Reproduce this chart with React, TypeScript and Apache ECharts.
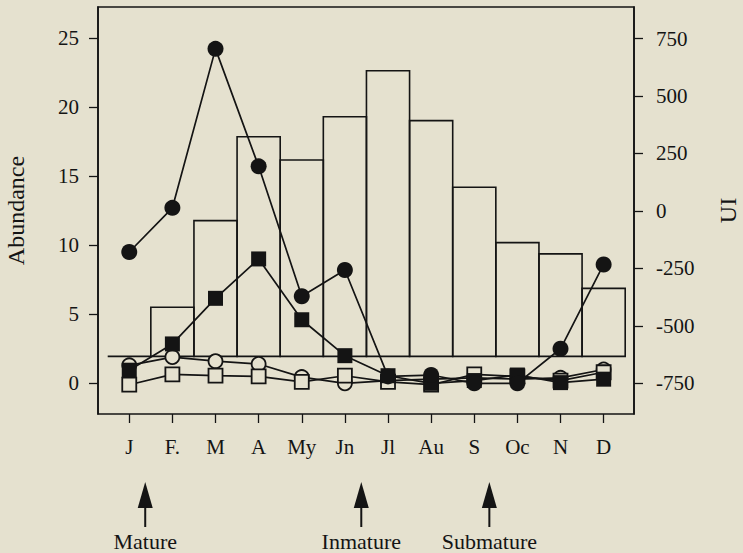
import React, { useEffect, useRef } from "react";
import * as echarts from "echarts";

const months = ["J", "F.", "M", "A", "My", "Jn", "Jl", "Au", "S", "Oc", "N", "D"];
const abundanceTicks = [0, 5, 10, 15, 20, 25];
const uiTicks = [-750, -500, -250, 0, 250, 500, 750];
const uiBars = [-633, -419, -42, 323, 222, 410, 610, 393, 103, -138, -187, -337];
const barBase = -633;
const filledCircles = [9.5, 12.7, 24.2, 15.7, 6.3, 8.2, 0.5, 0.6, 0.0, 0.0, 2.5, 8.6];
const filledSquares = [0.95, 2.85, 6.15, 9.0, 4.6, 2.0, 0.55, 0.0, 0.2, 0.6, 0.05, 0.3];
const openCircles = [1.3, 1.9, 1.6, 1.4, 0.45, 0.0, 0.2, 0.3, 0.4, 0.3, 0.4, 1.0];
const openSquares = [-0.1, 0.65, 0.55, 0.5, 0.1, 0.55, 0.1, -0.1, 0.65, 0.5, 0.2, 0.8];
const stages = [
  { label: "Mature", at: 0.37 },
  { label: "Inmature", at: 5.38 },
  { label: "Submature", at: 8.35 },
];

const ABUND_MIN = -2.22;
const ABUND_MAX = 27.23;
const UI_MIN = -883.6;
const UI_MAX = 887.5;

const BG = "#e5e1cf";
const INK = "#141414";
const FONT = "'Liberation Serif', 'DejaVu Serif', serif";

export default function App() {
  const ref = useRef<HTMLDivElement>(null);

  useEffect(() => {
    document.body.style.margin = "0";
    document.body.style.background = BG;
    const chart = echarts.init(ref.current!, null, { renderer: "svg" });

    const lineSeries = (
      name: string,
      data: number[],
      symbol: string,
      size: number,
      filled: boolean,
      z: number
    ) => ({
      name,
      type: "line",
      xAxisIndex: 1,
      yAxisIndex: 2,
      data,
      symbol,
      symbolSize: size,
      showSymbol: true,
      z,
      lineStyle: { color: INK, width: 1.7 },
      itemStyle: filled
        ? { color: INK, borderColor: INK, borderWidth: 0 }
        : { color: BG, borderColor: INK, borderWidth: 1.8 },
      emphasis: { disabled: true },
    });

    const option: any = {
      animation: false,
      backgroundColor: BG,
      textStyle: { fontFamily: FONT },
      grid: [
        {
          left: 98,
          top: 7,
          width: 536,
          height: 407,
          show: true,
          borderColor: INK,
          borderWidth: 1.6,
          backgroundColor: "transparent",
          containLabel: false,
          outerBoundsMode: "none",
        },
        {
          left: 107.7,
          top: 7,
          width: 517.5,
          height: 407,
          containLabel: false,
          outerBoundsMode: "none",
        },
      ],
      xAxis: [
        { type: "value", gridIndex: 0, show: false, min: 0, max: 1 },
        {
          type: "category",
          gridIndex: 1,
          data: months,
          boundaryGap: true,
          position: "bottom",
          axisLine: { show: false, onZero: false },
          axisTick: {
            show: true,
            alignWithLabel: true,
            length: 9,
            lineStyle: { color: INK, width: 1.3 },
          },
          axisLabel: {
            color: INK,
            fontSize: 21,
            fontFamily: FONT,
            margin: 22,
            interval: 0,
          },
        },
      ],
      yAxis: [
        {
          type: "value",
          gridIndex: 0,
          position: "left",
          min: ABUND_MIN,
          max: ABUND_MAX,
          name: "Abundance",
          nameLocation: "middle",
          nameRotate: 90,
          nameGap: 70,
          nameTextStyle: { color: INK, fontSize: 24, fontFamily: FONT },
          splitLine: { show: false },
          axisLine: { show: true, lineStyle: { color: INK, width: 1.6 } },
          axisTick: {
            show: true,
            length: 9,
            customValues: abundanceTicks,
            lineStyle: { color: INK, width: 1.3 },
          },
          axisLabel: {
            color: INK,
            fontSize: 21,
            fontFamily: FONT,
            margin: 19,
            customValues: abundanceTicks,
          },
        },
        {
          type: "value",
          gridIndex: 0,
          position: "right",
          min: UI_MIN,
          max: UI_MAX,
          name: "UI",
          nameLocation: "middle",
          nameRotate: 90,
          nameGap: 83,
          nameTextStyle: { color: INK, fontSize: 24, lineHeight: 22, fontFamily: FONT },
          splitLine: { show: false },
          axisLine: { show: true, lineStyle: { color: INK, width: 1.6 } },
          axisTick: {
            show: true,
            length: 9,
            customValues: uiTicks,
            lineStyle: { color: INK, width: 1.3 },
          },
          axisLabel: {
            color: INK,
            fontSize: 21,
            fontFamily: FONT,
            margin: 22,
            customValues: uiTicks,
          },
        },
        { type: "value", gridIndex: 1, show: false, min: ABUND_MIN, max: ABUND_MAX, splitLine: { show: false } },
        { type: "value", gridIndex: 1, show: false, min: UI_MIN, max: UI_MAX, splitLine: { show: false } },
      ],
      series: [
        {
          name: "UI",
          type: "custom",
          xAxisIndex: 1,
          yAxisIndex: 3,
          z: 1,
          data: uiBars.map((v, i) => [i, v]),
          encode: { x: 0, y: 1 },
          renderItem: (params: any, api: any) => {
            const i = api.value(0);
            const top = api.coord([i, api.value(1)]);
            const bottom = api.coord([i, barBase]);
            const w = api.size([1, 0])[0];
            return {
              type: "rect",
              shape: {
                x: top[0] - w / 2,
                y: top[1],
                width: w,
                height: bottom[1] - top[1],
              },
              style: { fill: "none", stroke: INK, lineWidth: 1.6 },
            };
          },
        },
        lineSeries("open circles", openCircles, "circle", 14, false, 3),
        lineSeries("open squares", openSquares, "rect", 14, false, 4),
        lineSeries("filled squares", filledSquares, "rect", 15, true, 5),
        lineSeries("filled circles", filledCircles, "circle", 16, true, 6),
      ],
    };

    chart.setOption(option);

    const p0 = chart.convertToPixel({ xAxisIndex: 1 } as any, 0) as any;
    const p1 = chart.convertToPixel({ xAxisIndex: 1 } as any, 1) as any;
    const x0 = typeof p0 === "number" ? p0 : 129.3;
    const step = typeof p1 === "number" ? p1 - x0 : 43.12;

    const graphics: any[] = [];
    stages.forEach((s) => {
      const x = x0 + s.at * step;
      graphics.push({
        type: "polygon",
        shape: { points: [[x, 482], [x - 7.5, 508], [x + 7.5, 508]] },
        style: { fill: INK },
      });
      graphics.push({
        type: "line",
        shape: { x1: x, y1: 504, x2: x, y2: 527 },
        style: { stroke: INK, lineWidth: 2 },
      });
      graphics.push({
        type: "text",
        x,
        y: 541,
        style: {
          text: s.label,
          fill: INK,
          fontSize: 22,
          fontFamily: FONT,
          align: "center",
          verticalAlign: "middle",
        },
      });
    });
    chart.setOption({ graphic: graphics });

    return () => chart.dispose();
  }, []);

  return (
    <div
      ref={ref}
      style={{ position: "fixed", left: 0, top: 0, width: 743, height: 553, background: BG }}
    />
  );
}
